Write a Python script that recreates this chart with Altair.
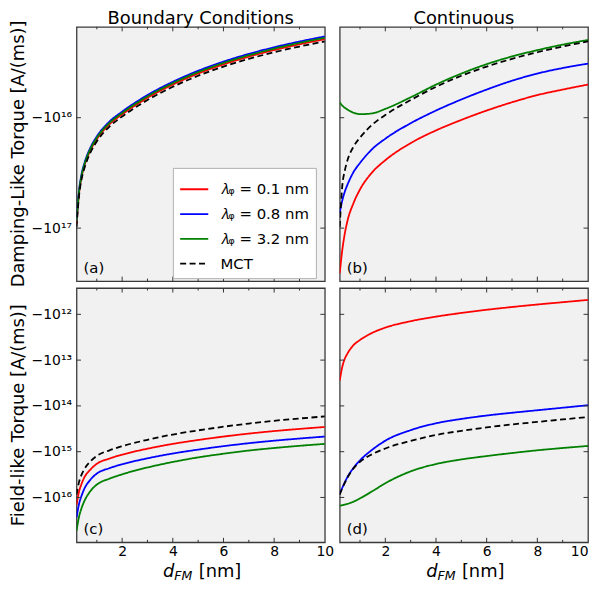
import altair as alt
import pandas as pd

# thickness of the ferromagnet (nm)
d_nm = [0.2, 0.3, 0.4, 0.5, 0.75, 1, 1.5, 2, 3, 4, 5, 6, 7, 8, 9, 10]

# log10 of |torque| in A/(ms) (all torques are negative)
# (a) damping-like, boundary conditions
a_red = [16.96, 16.685, 16.535, 16.445, 16.295, 16.195, 16.06, 15.97, 15.82, 15.70, 15.60, 15.517, 15.447, 15.387, 15.335, 15.289]
a_blue = [16.93, 16.66, 16.51, 16.42, 16.27, 16.17, 16.035, 15.945, 15.795, 15.675, 15.575, 15.492, 15.422, 15.362, 15.31, 15.264]
a_green = [16.94, 16.672, 16.522, 16.432, 16.282, 16.182, 16.047, 15.957, 15.807, 15.687, 15.587, 15.504, 15.434, 15.374, 15.322, 15.276]
mct_a = [16.99, 16.705, 16.555, 16.465, 16.315, 16.215, 16.08, 15.99, 15.84, 15.72, 15.62, 15.537, 15.467, 15.407, 15.355, 15.309]
# (b) damping-like, continuous
mct_b = [16.99, 16.62, 16.48, 16.39, 16.26, 16.18, 16.06, 15.975, 15.84, 15.72, 15.62, 15.537, 15.467, 15.407, 15.355, 15.309]
b_red = [17.41, 17.20, 17.05, 16.94, 16.77, 16.65, 16.49, 16.385, 16.23, 16.115, 16.02, 15.935, 15.86, 15.795, 15.745, 15.70]
b_blue = [16.86, 16.75, 16.67, 16.61, 16.49, 16.41, 16.28, 16.19, 16.05, 15.935, 15.835, 15.745, 15.665, 15.60, 15.55, 15.51]
b_green = [15.86, 15.89, 15.91, 15.925, 15.955, 15.968, 15.96, 15.92, 15.815, 15.70, 15.60, 15.515, 15.445, 15.388, 15.338, 15.296]
# (c) field-like, boundary conditions
mct_c = [15.94, 15.66, 15.50, 15.39, 15.21, 15.09, 14.97, 14.88, 14.74, 14.625, 14.535, 14.455, 14.385, 14.325, 14.275, 14.23]
c_red = [16.16, 15.87, 15.70, 15.57, 15.39, 15.265, 15.15, 15.065, 14.935, 14.83, 14.745, 14.67, 14.605, 14.55, 14.503, 14.46]
c_blue = [16.44, 16.14, 15.96, 15.82, 15.61, 15.48, 15.36, 15.275, 15.145, 15.04, 14.955, 14.88, 14.815, 14.76, 14.713, 14.67]
c_green = [16.73, 16.42, 16.23, 16.09, 15.86, 15.72, 15.59, 15.495, 15.345, 15.225, 15.125, 15.045, 14.975, 14.92, 14.872, 14.83]
# (d) field-like, continuous
mct_d = [15.94, 15.80, 15.68, 15.57, 15.36, 15.22, 15.05, 14.93, 14.765, 14.635, 14.545, 14.47, 14.405, 14.35, 14.295, 14.245]
d_red = [13.45, 13.15, 12.97, 12.86, 12.67, 12.56, 12.40, 12.29, 12.15, 12.05, 11.97, 11.90, 11.84, 11.785, 11.735, 11.685]
d_blue = [15.905, 15.79, 15.67, 15.56, 15.35, 15.19, 14.95, 14.76, 14.53, 14.38, 14.285, 14.21, 14.15, 14.095, 14.04, 13.985]
d_green = [16.18, 16.17, 16.155, 16.14, 16.09, 16.02, 15.86, 15.69, 15.43, 15.27, 15.17, 15.095, 15.03, 14.97, 14.92, 14.875]

series = ["𝜆ᵩ = 0.1 nm", "𝜆ᵩ = 0.8 nm", "𝜆ᵩ = 3.2 nm", "MCT"]
colors = ["#ff0000", "#0000ff", "#008000", "#000000"]
dashes = [[1, 0], [1, 0], [1, 0], [6, 3.5]]

x_major = [2, 4, 6, 8]
x_minor = [1, 3, 5, 7, 9]
x_labels = [2, 4, 6, 8, 10]
top_yticks = [16, 17]
bot_yticks = [12, 13, 14, 15, 16]
top_domain = [15.177, 17.48]
bot_domain = [11.426, 16.98]

col_titles = ["Boundary Conditions", "Continuous"]
row_titles = ["Damping-Like Torque [A/(ms)]", "Field-like Torque [A/(ms)]"]
letters = ["(a)", "(b)", "(c)", "(d)"]

panel_lists = {
    "a": [a_red, a_blue, a_green, mct_a],
    "b": [b_red, b_blue, b_green, mct_b],
    "c": [c_red, c_blue, c_green, mct_c],
    "d": [d_red, d_blue, d_green, mct_d],
}
rows = []
for p, lists in panel_lists.items():
    for s, vals in zip(series, lists):
        for d, v in zip(d_nm, vals):
            rows.append({"panel": p, "series": s, "d": d, "L": v})
df = pd.DataFrame(rows)

sup = {11: "¹¹", 12: "¹²", 13: "¹³", 14: "¹⁴", 15: "¹⁵", 16: "¹⁶", 17: "¹⁷"}
label_expr = "'−10' + (" + " : ".join(f"datum.value == {k} ? '{v}'" for k, v in sup.items()) + " : '')"

W = 250
H_TOP = 256
H_BOT = 256
TICK = "#333333"


def text_layer(txt, x, y, size, **kw):
    return alt.Chart(pd.DataFrame({"t": [txt]})).mark_text(
        baseline="alphabetic", fontSize=size, color="black", **kw
    ).encode(text="t:N", x=alt.value(x), y=alt.value(y))


def panel(key, h, ydom, yticks, left, bottom, letter, ytitle=None, ctitle=None,
          legend=False, flush=False):
    xs = alt.Scale(domain=[0.2, 10], nice=False, zero=False)
    ys = alt.Scale(domain=ydom, reverse=True, nice=False, zero=False)
    if bottom:
        xaxis = alt.Axis(values=x_labels, format="d", labelFontSize=14, labelColor="black",
                         ticks=False, tickSize=0, domain=False, grid=False, labelPadding=2,
                         labelFlush=flush, title=None)
    else:
        xaxis = None
    if left:
        yaxis = alt.Axis(values=yticks, labelExpr=label_expr, labelFontSize=14, labelColor="black",
                         ticks=False, tickSize=0, domain=False, grid=False, labelPadding=5,
                         title=None)
    else:
        yaxis = None
    X = lambda: alt.X("d:Q", scale=xs, axis=xaxis)
    Y = lambda: alt.Y("L:Q", scale=ys, axis=yaxis)

    if legend:
        leg = alt.Legend(orient="none", legendX=97, legendY=142, title=None,
                         symbolType="stroke", symbolSize=800, symbolStrokeWidth=1.8,
                         labelFontSize=15, labelColor="black", fillColor="white",
                         strokeColor="#b0b0b0", padding=6, rowPadding=1, labelOffset=11,
                         labelLimit=300)
    else:
        leg = None

    lines = alt.Chart(df[df.panel == key]).mark_line(
        strokeWidth=1.8, clip=True, interpolate="monotone"
    ).encode(
        x=X(), y=Y(),
        color=alt.Color("series:N", scale=alt.Scale(domain=series, range=colors), legend=leg,
                        sort=series),
        strokeDash=alt.StrokeDash("series:N", scale=alt.Scale(domain=series, range=dashes),
                                  legend=leg, sort=series),
    )

    layers = []
    xmaj = pd.DataFrame({"d": x_major})
    xmin = pd.DataFrame({"d": x_minor})
    ydf = pd.DataFrame({"L": yticks})
    for tdf, ln in ((xmaj, 4.5), (xmin, 2.5)):
        layers.append(alt.Chart(tdf).mark_rule(color=TICK, strokeWidth=1).encode(
            x=X(), y=alt.value(0), y2=alt.value(ln)))
        layers.append(alt.Chart(tdf).mark_rule(color=TICK, strokeWidth=1).encode(
            x=X(), y=alt.value(h), y2=alt.value(h - ln)))
    layers.append(alt.Chart(ydf).mark_rule(color=TICK, strokeWidth=1).encode(
        y=Y(), x=alt.value(0), x2=alt.value(4.5)))
    layers.append(alt.Chart(ydf).mark_rule(color=TICK, strokeWidth=1).encode(
        y=Y(), x=alt.value(W - 4.5), x2=alt.value(W)))

    layers.append(text_layer(letter, 7, h - 8, 15, align="left"))
    if ytitle:
        layers.append(text_layer(ytitle, -53, h / 2, 18, align="center", angle=270))
    if ctitle:
        layers.append(text_layer(ctitle, W / 2, -3, 18, align="center"))
    if bottom:
        layers.append(text_layer("d", 87, h + 35, 18, align="left", fontStyle="italic"))
        layers.append(text_layer("FM", 98.5, h + 38, 12.6, align="left", fontStyle="italic"))
        layers.append(text_layer("[nm]", 123, h + 35, 18, align="left"))

    return alt.layer(lines, *layers).properties(width=W, height=h)


pa = panel("a", H_TOP, top_domain, top_yticks, True, False, letters[0], ytitle=row_titles[0],
           ctitle=col_titles[0], legend=True)
pb = panel("b", H_TOP, top_domain, top_yticks, False, False, letters[1], ctitle=col_titles[1])
pc = panel("c", H_BOT, bot_domain, bot_yticks, True, True, letters[2], ytitle=row_titles[1])
pd_ = panel("d", H_BOT, bot_domain, bot_yticks, False, True, letters[3], flush=True)

chart = alt.concat(
    pa, pb, pc, pd_, columns=2, spacing=alt.RowColnumber(row=7, column=15), bounds="flush"
).resolve_scale(
    color="independent", strokeDash="independent"
).resolve_legend(
    color="independent", strokeDash="independent"
).properties(
    padding={"left": 1, "top": -1, "right": 0, "bottom": 0}
).configure(
    font="DejaVu Sans"
).configure_view(
    stroke="#3a3a3a", strokeWidth=1.3, fill="#f1f1f1"
)

chart.save("out.html", embed_options={"renderer": "svg", "actions": False})
